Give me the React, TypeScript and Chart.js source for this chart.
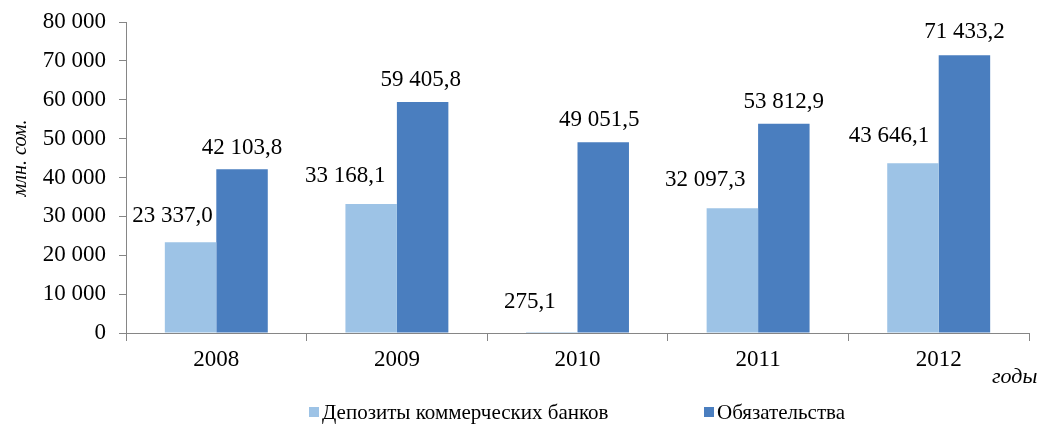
import React, { useEffect, useRef } from "react";
import { Chart, registerables } from "chart.js";

Chart.register(...registerables);

// ---- data ----
const YEARS = ["2008", "2009", "2010", "2011", "2012"];
const DEPOSITS = [23337.0, 33168.1, 275.1, 32097.3, 43646.1];
const LIABILITIES = [42103.8, 59405.8, 49051.5, 53812.9, 71433.2];
const SERIES_NAMES = ["Депозиты коммерческих банков", "Обязательства"];
const Y_TITLE = "млн. сом.";
const X_TITLE = "годы";
const Y_MIN = 0;
const Y_MAX = 80000;
const Y_STEP = 10000;

// ---- style ----
const FONT = "'Liberation Serif', 'Times New Roman', serif";
const LIGHT = "#9DC3E6";
const DARK = "#4A7EBF";
const AXIS = "#868686";

function groupThousands(s: string): string {
  return s.replace(/\B(?=(\d{3})+(?!\d))/g, " ");
}
function fmtTick(v: number): string {
  return groupThousands(String(Math.round(v)));
}
function fmtVal(v: number): string {
  const [i, d] = v.toFixed(1).split(".");
  return groupThousands(i) + "," + d;
}

const annotations = {
  id: "annotations",
  afterDraw(chart: any, _args: any, opts: any) {
    const ctx: CanvasRenderingContext2D = chart.ctx;
    ctx.save();
    ctx.fillStyle = "#000";
    // data labels
    ctx.font = `23px ${FONT}`;
    ctx.textAlign = "center";
    ctx.textBaseline = "alphabetic";
    chart.data.datasets.forEach((ds: any, di: number) => {
      const meta = chart.getDatasetMeta(di);
      const nudge = opts.labelNudge[di];
      meta.data.forEach((bar: any, i: number) => {
        ctx.fillText(fmtVal(ds.data[i]), bar.x + nudge.dx[i], bar.y - nudge.dy[i]);
      });
    });
    // y title
    ctx.save();
    ctx.translate(opts.yTitle.x, opts.yTitle.y);
    ctx.rotate(-Math.PI / 2);
    ctx.font = `italic 20px ${FONT}`;
    ctx.textAlign = "center";
    ctx.textBaseline = "middle";
    ctx.fillText(Y_TITLE, 0, 0);
    ctx.restore();
    // x title
    ctx.font = `italic 22px ${FONT}`;
    ctx.textAlign = "left";
    ctx.textBaseline = "alphabetic";
    ctx.fillText(X_TITLE, opts.xTitle.x, opts.xTitle.y);
    // legend
    ctx.font = `21px ${FONT}`;
    chart.data.datasets.forEach((ds: any, di: number) => {
      const x = opts.legend.x[di];
      const y = opts.legend.y;
      ctx.fillStyle = ds.backgroundColor;
      ctx.fillRect(x, y - 5, 10, 10);
      ctx.fillStyle = "#000";
      ctx.textBaseline = "middle";
      ctx.fillText(SERIES_NAMES[di], x + 13, y + 1);
    });
    ctx.restore();
  },
};

export default function App() {
  const ref = useRef<HTMLCanvasElement | null>(null);

  useEffect(() => {
    if (!ref.current) return;
    const chart = new Chart(ref.current, {
      type: "bar",
      data: {
        labels: YEARS,
        datasets: [
          {
            label: SERIES_NAMES[0],
            data: DEPOSITS,
            backgroundColor: LIGHT,
            barPercentage: 1,
            categoryPercentage: 0.57,
          },
          {
            label: SERIES_NAMES[1],
            data: LIABILITIES,
            backgroundColor: DARK,
            barPercentage: 1,
            categoryPercentage: 0.57,
          },
        ],
      },
      options: {
        responsive: false,
        animation: false,
        layout: { padding: { top: 22, right: 10, left: 0, bottom: 0 } },
        plugins: {
          legend: { display: false },
          tooltip: { enabled: false },
          annotations: {
            labelNudge: [
              { dx: [-18, -26, -22, -27, -24], dy: [20, 22, 24, 22, 21] },
              { dx: [0, -2, -4, 0, 0], dy: [15, 16, 16, 16, 17] },
            ],
            yTitle: { x: 21, y: 158 },
            xTitle: { x: 992, y: 383 },
            legend: { x: [309, 704], y: 412 },
          },
        } as any,
        scales: {
          x: {
            offset: true,
            grid: {
              offset: true,
              drawOnChartArea: false,
              drawTicks: true,
              tickLength: 8,
              tickColor: AXIS,
            },
            border: { color: AXIS, width: 1 },
            ticks: {
              color: "#000",
              font: { family: FONT, size: 23 },
              padding: 5,
            },
            afterFit: (s: any) => {
              s.height = 92;
              s.paddingLeft = 0;
              s.paddingRight = 0;
            },
          },
          y: {
            min: Y_MIN,
            max: Y_MAX,
            grid: {
              drawOnChartArea: false,
              drawTicks: true,
              tickLength: 7,
              tickColor: AXIS,
            },
            border: { color: AXIS, width: 1 },
            ticks: {
              stepSize: Y_STEP,
              color: "#000",
              font: { family: FONT, size: 23 },
              padding: 13,
              callback: (v: any) => fmtTick(Number(v)),
            },
            afterFit: (s: any) => {
              s.width = 126;
              s.paddingTop = 0;
              s.paddingBottom = 0;
            },
          },
        },
      },
      plugins: [annotations],
    });
    return () => chart.destroy();
  }, []);

  return (
    <div style={{ position: "absolute", left: 0, top: 0, width: 1039, height: 425, background: "#fff" }}>
      <canvas ref={ref} width={1039} height={425} style={{ display: "block" }} />
    </div>
  );
}
